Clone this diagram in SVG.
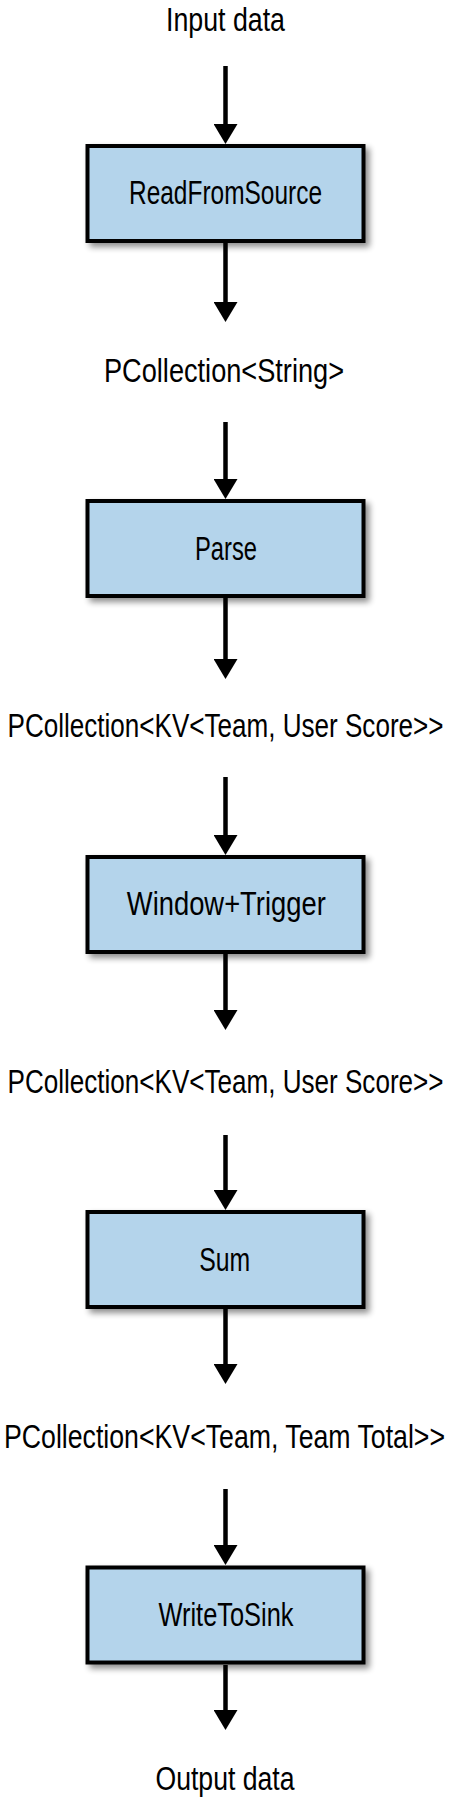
<svg xmlns="http://www.w3.org/2000/svg" width="451" height="1801" viewBox="0 0 451 1801">
  <style>
    .box { fill: #b4d4eb; stroke: #000; stroke-width: 4; filter: url(#shadow); }
    .lbl { font-family: "Liberation Sans Narrow", "Liberation Sans", Arial, sans-serif; font-size: 34px; fill: #000; text-anchor: middle; }
    .conn { stroke: #000; stroke-width: 4.5; fill: none; marker-end: url(#arrow); }
  </style>
  <defs>
    <filter id="shadow" x="-20%" y="-30%" width="150%" height="170%">
      <feGaussianBlur in="SourceAlpha" stdDeviation="3"/>
      <feOffset dx="4" dy="4" result="b"/>
      <feComponentTransfer><feFuncA type="linear" slope="0.45"/></feComponentTransfer>
      <feMerge><feMergeNode/><feMergeNode in="SourceGraphic"/></feMerge>
    </filter>
    <marker id="arrow" markerUnits="userSpaceOnUse" viewBox="0 0 20 24" markerWidth="20" markerHeight="24" refX="4" refY="12" orient="auto">
      <path d="M0,0 L20,12 L0,24 z" fill="#000"/>
    </marker>
  </defs>
  <rect width="451" height="1801" fill="#fff"/>

  <g id="connectors">
    <line class="conn" x1="225.5" y1="66" x2="225.5" y2="128"/>
    <line class="conn" x1="225.5" y1="243" x2="225.5" y2="306"/>
    <line class="conn" x1="225.5" y1="422" x2="225.5" y2="483"/>
    <line class="conn" x1="225.5" y1="598" x2="225.5" y2="663"/>
    <line class="conn" x1="225.5" y1="777" x2="225.5" y2="839"/>
    <line class="conn" x1="225.5" y1="953" x2="225.5" y2="1014"/>
    <line class="conn" x1="225.5" y1="1135" x2="225.5" y2="1194"/>
    <line class="conn" x1="225.5" y1="1309" x2="225.5" y2="1368"/>
    <line class="conn" x1="225.5" y1="1489" x2="225.5" y2="1549"/>
    <line class="conn" x1="225.5" y1="1665" x2="225.5" y2="1714"/>
  </g>

  <g id="input-data">
    <text class="lbl" x="225.5" y="31" textLength="119" lengthAdjust="spacingAndGlyphs">Input data</text>
  </g>
  <g id="read-from-source">
    <rect class="box" x="87.5" y="146" width="276" height="95"/>
    <text class="lbl" x="225.5" y="204.3" textLength="193" lengthAdjust="spacingAndGlyphs">ReadFromSource</text>
  </g>
  <g id="pcollection-string">
    <text class="lbl" x="224" y="382" textLength="240" lengthAdjust="spacingAndGlyphs">PCollection&lt;String&gt;</text>
  </g>
  <g id="parse">
    <rect class="box" x="87.5" y="501" width="276" height="95"/>
    <text class="lbl" x="226" y="560" textLength="62" lengthAdjust="spacingAndGlyphs">Parse</text>
  </g>
  <g id="pcollection-user-score-1">
    <text class="lbl" x="225.5" y="736.7" textLength="436" lengthAdjust="spacingAndGlyphs">PCollection&lt;KV&lt;Team, User Score&gt;&gt;</text>
  </g>
  <g id="window-trigger">
    <rect class="box" x="87.5" y="857" width="276" height="95"/>
    <text class="lbl" x="226.3" y="915" textLength="199" lengthAdjust="spacingAndGlyphs">Window+Trigger</text>
  </g>
  <g id="pcollection-user-score-2">
    <text class="lbl" x="225.5" y="1092.7" textLength="436" lengthAdjust="spacingAndGlyphs">PCollection&lt;KV&lt;Team, User Score&gt;&gt;</text>
  </g>
  <g id="sum">
    <rect class="box" x="87.5" y="1212" width="276" height="95"/>
    <text class="lbl" x="224.7" y="1270.7" textLength="51" lengthAdjust="spacingAndGlyphs">Sum</text>
  </g>
  <g id="pcollection-team-total">
    <text class="lbl" x="224.5" y="1447.7" textLength="441" lengthAdjust="spacingAndGlyphs">PCollection&lt;KV&lt;Team, Team Total&gt;&gt;</text>
  </g>
  <g id="write-to-sink">
    <rect class="box" x="87.5" y="1567.5" width="276" height="95"/>
    <text class="lbl" x="226" y="1626" textLength="135" lengthAdjust="spacingAndGlyphs">WriteToSink</text>
  </g>
  <g id="output-data">
    <text class="lbl" x="225" y="1790" textLength="139" lengthAdjust="spacingAndGlyphs">Output data</text>
  </g>
</svg>
